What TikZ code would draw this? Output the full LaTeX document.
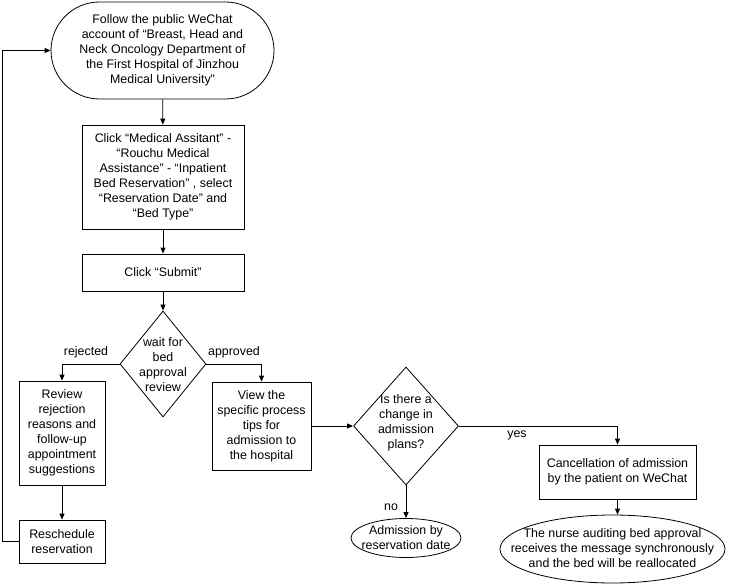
\documentclass[tikz,border=0pt]{standalone}
\usepackage{fontspec}
\setmainfont{Liberation Sans}
\usetikzlibrary{shapes.geometric,shapes.misc,arrows.meta}
\begin{document}
\begin{tikzpicture}[x=1pt,y=-1pt,
  every node/.style={font=\fontsize{12.4}{15}\selectfont, inner sep=0pt},
  procbox/.style={draw, line width=0.8pt, rectangle, align=center},
  termbox/.style={draw, line width=0.8pt, rounded rectangle, align=center},
  endell/.style={draw, line width=0.8pt, ellipse},
  decbox/.style={draw, line width=0.8pt, diamond},
  lbl/.style={align=center},
  arr/.style={line width=0.8pt, -{Triangle[length=6pt,width=5pt]}}
]
\useasboundingbox (0,0) rectangle (734,586);

\node[termbox, minimum width=223, minimum height=97] (s1) at (162.5,50.5)
  {Follow the public WeChat\\account of “Breast, Head and\\Neck Oncology Department of\\the First Hospital of Jinzhou\\Medical University”};
\node[procbox, minimum width=162, minimum height=104] (b2) at (163,177)
  {Click “Medical Assitant” -\\“Rouchu Medical\\Assistance” - “Inpatient\\Bed Reservation” , select\\“Reservation Date” and\\“Bed Type”};
\node[procbox, minimum width=162, minimum height=37] (b3) at (163,272.5) {Click “Submit”};
\node[decbox, minimum width=86, minimum height=106] (d1) at (163,364) {};
\node[lbl] (d1t) at (163,365) {wait for\\bed\\approval\\review};
\node[procbox, minimum width=86, minimum height=104] (r1) at (62,433)
  {Review\\rejection\\reasons and\\follow-up\\appointment\\suggestions};
\node[procbox, minimum width=86, minimum height=43] (r2) at (62,541.5)
  {Reschedule\\reservation};
\node[procbox, minimum width=99, minimum height=88] (v1) at (261.5,426)
  {View the\\specific process\\tips for\\admission to\\the hospital};
\node[decbox, minimum width=105, minimum height=118] (d2) at (406,426) {};
\node[lbl] (d2t) at (406,423) {Is there a\\change in\\admission\\plans?};
\node[endell, minimum width=110, minimum height=39] (e1) at (406,538) {};
\node[lbl] (e1t) at (406,538) {Admission by\\reservation date};
\node[procbox, minimum width=157, minimum height=54] (c1) at (617.5,472)
  {Cancellation of admission\\by the patient on WeChat};
\node[endell, minimum width=225, minimum height=68] (e2) at (612.5,549) {};
\node[lbl] (e2t) at (612.5,548)
  {The nurse auditing bed approval\\receives the message synchronously\\and the bed will be reallocated};

\draw[arr] (s1) -- (b2);
\draw[arr] (b2) -- (b3);
\draw[arr] (b3) -- (d1);
\draw[arr] (d1.west) -| (r1.north);
\draw[arr] (d1.east) -| (v1.north);
\draw[arr] (r1) -- (r2);
\draw[arr] (r2.west) -- ++(-16,0) |- (s1.west);
\draw[arr] (v1.east) -- (d2.west);
\draw[arr] (d2.east) -| (c1.north);
\draw[arr] (d2.south) -- (e1.north);
\draw[arr] (c1.south) -- (c1.south |- e2.north);

\node[lbl] (lrej) at (86,352) {rejected};
\node[lbl] (lapp) at (234,352) {approved};
\node[lbl] (lyes) at (517,435) {yes};
\node[lbl] (lno) at (391,507) {no};
\end{tikzpicture}
\end{document}
